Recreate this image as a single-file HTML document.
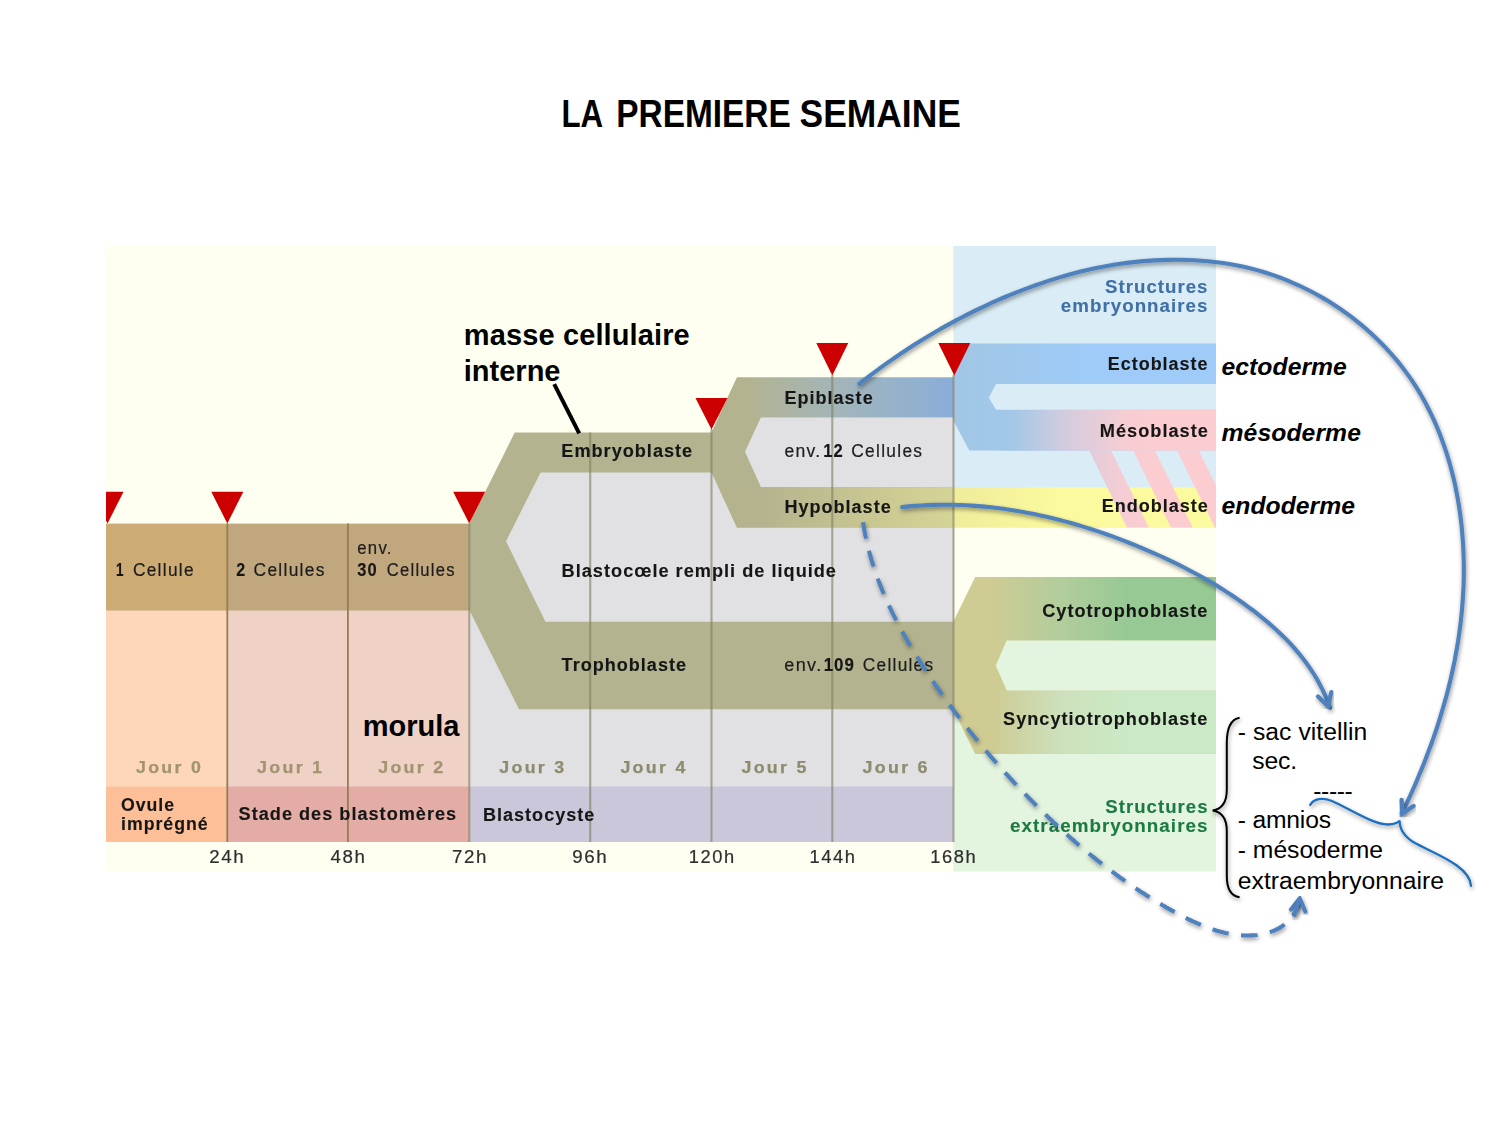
<!DOCTYPE html>
<html><head><meta charset="utf-8"><style>
html,body{margin:0;padding:0;background:#fff;width:1500px;height:1125px;overflow:hidden}
svg{display:block;font-family:"Liberation Sans",sans-serif}
</style></head><body>
<svg width="1500" height="1125" viewBox="0 0 1500 1125">
<defs>
<filter id="soft" filterUnits="userSpaceOnUse" x="90" y="230" width="1140" height="660"><feGaussianBlur stdDeviation="0.55"/></filter>
<clipPath id="clipD"><rect x="106" y="240" width="1110" height="640"/></clipPath>
<linearGradient id="gEpi" gradientUnits="userSpaceOnUse" x1="745" y1="0" x2="953" y2="0">
 <stop offset="0" stop-color="#b3b38f"/><stop offset="0.45" stop-color="#a2b5ba"/><stop offset="1" stop-color="#8aaed9"/></linearGradient>
<linearGradient id="gHyp" gradientUnits="userSpaceOnUse" x1="760" y1="0" x2="953" y2="0">
 <stop offset="0" stop-color="#b4b38e"/><stop offset="0.7" stop-color="#cdcb92"/><stop offset="1" stop-color="#d5d497"/></linearGradient>
<linearGradient id="gEcto" gradientUnits="userSpaceOnUse" x1="953" y1="0" x2="1080" y2="0">
 <stop offset="0" stop-color="#a2c6e4"/><stop offset="1" stop-color="#9ecbf7"/></linearGradient>
<linearGradient id="gMeso" gradientUnits="userSpaceOnUse" x1="990" y1="0" x2="1160" y2="0">
 <stop offset="0" stop-color="#a1c8e6" stop-opacity="0"/><stop offset="0.12" stop-color="#a1c8e6"/><stop offset="0.29" stop-color="#bccae3"/><stop offset="0.47" stop-color="#d6ccdd"/><stop offset="0.8" stop-color="#f6cdd3"/><stop offset="1" stop-color="#fccdd0"/></linearGradient>
<linearGradient id="gStripe" gradientUnits="userSpaceOnUse" x1="990" y1="0" x2="1160" y2="0">
 <stop offset="0.12" stop-color="#a1c8e6"/><stop offset="0.29" stop-color="#bccae3"/><stop offset="0.47" stop-color="#d6ccdd"/><stop offset="0.8" stop-color="#f6cdd3"/><stop offset="1" stop-color="#fccdd0"/></linearGradient>
<linearGradient id="gEndo" gradientUnits="userSpaceOnUse" x1="953" y1="0" x2="1060" y2="0">
 <stop offset="0" stop-color="#efec9b"/><stop offset="1" stop-color="#fcfa9e"/></linearGradient>
<linearGradient id="gCyto" gradientUnits="userSpaceOnUse" x1="992" y1="0" x2="1128" y2="0">
 <stop offset="0" stop-color="#cecb93"/><stop offset="0.5" stop-color="#b2cd9c"/><stop offset="1" stop-color="#97c995"/></linearGradient>
<linearGradient id="gSync" gradientUnits="userSpaceOnUse" x1="992" y1="0" x2="1128" y2="0">
 <stop offset="0" stop-color="#cecb93"/><stop offset="0.5" stop-color="#cde0bb"/><stop offset="1" stop-color="#c9eac5"/></linearGradient>
<clipPath id="clipR"><rect x="953.3" y="440" width="262.7" height="100"/></clipPath>
<filter id="sh" x="-20%" y="-20%" width="140%" height="140%"><feDropShadow dx="0.8" dy="2.2" stdDeviation="2.0" flood-color="#000" flood-opacity="0.42"/></filter>
</defs>
<text x="561.4" y="126.8" font-size="38.5" font-weight="bold" fill="#000" textLength="41.7" lengthAdjust="spacingAndGlyphs">LA</text><text x="616.2" y="126.8" font-size="38.5" font-weight="bold" fill="#000" textLength="174.6" lengthAdjust="spacingAndGlyphs">PREMIERE</text><text x="799.5" y="126.8" font-size="38.5" font-weight="bold" fill="#000" textLength="161.4" lengthAdjust="spacingAndGlyphs">SEMAINE</text>
<g filter="url(#soft)">
<rect x="106.00" y="246.00" width="1110.00" height="625.50" fill="#fefff0" />
<rect x="953.30" y="246.00" width="262.70" height="281.50" fill="#daecf5" />
<rect x="953.30" y="640.00" width="262.70" height="231.50" fill="#e3f4df" />
<rect x="106.00" y="523.60" width="121.30" height="87.20" fill="#cdab74" />
<rect x="106.00" y="610.80" width="121.30" height="175.50" fill="#fed6b9" />
<rect x="106.00" y="786.30" width="121.30" height="55.70" fill="#fcbf98" />
<rect x="227.30" y="523.60" width="242.00" height="87.20" fill="#c0a77d" />
<rect x="227.30" y="610.80" width="242.00" height="175.50" fill="#efd1c6" />
<rect x="227.30" y="786.30" width="242.00" height="55.70" fill="#e3aca5" />
<rect x="469.30" y="523.60" width="484.00" height="262.70" fill="#e1e0e3" />
<rect x="469.30" y="786.30" width="484.00" height="55.70" fill="#c9c7d9" />
<polygon points="469.2,523.9 514.7,432.5 711.5,432.5 737.0,377.6 953.3,377.6 953.3,709.2 519.0,709.2 469.2,609.7" fill="#b3b38f" />
<polygon points="761.0,417.3 953.3,417.3 953.3,487.3 761.0,487.3 745.0,451.8" fill="#e1e0e3" />
<polygon points="540.6,472.5 711.5,472.5 737.0,527.5 953.3,527.5 953.3,621.7 545.4,621.7 506.0,541.2" fill="#e1e0e3" />
<polygon points="737.0,377.6 953.3,377.6 953.3,417.3 718.5,417.3" fill="url(#gEpi)" />
<polygon points="718.5,487.3 953.3,487.3 953.3,527.5 737.0,527.5" fill="url(#gHyp)" />
<polygon points="953.3,343.4 1216.0,343.4 1216.0,450.6 969.3,450.6 953.3,420.5" fill="url(#gEcto)" />
<rect x="975.00" y="409.80" width="241.00" height="40.80" fill="url(#gMeso)" />
<polygon points="996.0,383.9 1216.0,383.9 1216.0,409.8 996.0,409.8 988.8,397.8" fill="#daecf5" />
<rect x="953.30" y="487.30" width="262.70" height="40.20" fill="url(#gEndo)" />
<g clip-path="url(#clipR)"><polygon points="1089.2,450.6 1111.0,450.6 1148.8,527.5 1127.0,527.5" fill="url(#gStripe)" /><polygon points="1133.1,450.6 1154.9,450.6 1192.7,527.5 1170.9,527.5" fill="url(#gStripe)" /><polygon points="1177.0,450.6 1198.8,450.6 1236.6,527.5 1214.8,527.5" fill="url(#gStripe)" /><polygon points="1220.9,450.6 1242.7,450.6 1280.5,527.5 1258.7,527.5" fill="url(#gStripe)" /></g>
<polygon points="953.3,621.7 975.2,577.0 1216.0,577.0 1216.0,753.9 975.2,753.9 953.3,709.2" fill="#cecb93" />
<rect x="975.20" y="577.00" width="240.80" height="63.60" fill="url(#gCyto)" />
<rect x="975.20" y="690.40" width="240.80" height="63.50" fill="url(#gSync)" />
<polygon points="1006.7,640.6 1216.0,640.6 1216.0,690.4 1006.7,690.4 995.7,665.5" fill="#e3f4df" />
<line x1="227.3" y1="523.6" x2="227.3" y2="842" stroke="#957d55" stroke-width="1.8"/>
<line x1="347.9" y1="523.6" x2="347.9" y2="842" stroke="#957d55" stroke-width="1.8"/>
<line x1="469.3" y1="523.6" x2="469.3" y2="842" stroke="#807e5f" stroke-opacity="0.62" stroke-width="2.1"/>
<line x1="590.2" y1="432.5" x2="590.2" y2="842" stroke="#807e5f" stroke-opacity="0.62" stroke-width="2.1"/>
<line x1="711.5" y1="429" x2="711.5" y2="842" stroke="#807e5f" stroke-opacity="0.62" stroke-width="2.1"/>
<line x1="832.3" y1="375" x2="832.3" y2="842" stroke="#807e5f" stroke-opacity="0.62" stroke-width="2.1"/>
<line x1="953.5" y1="375" x2="953.5" y2="842" stroke="#807e5f" stroke-opacity="0.62" stroke-width="2.1"/>
<polygon points="211.3,491.7 243.3,491.7 227.3,523.6" fill="#cc0000" />
<polygon points="453.2,491.7 485.2,491.7 469.2,523.6" fill="#cc0000" />
<polygon points="695.5,398.0 727.5,398.0 711.5,429.5" fill="#cc0000" />
<polygon points="816.3,343.0 848.3,343.0 832.3,375.5" fill="#cc0000" />
<polygon points="938.3,343.0 970.3,343.0 954.3,375.5" fill="#cc0000" />
<g clip-path="url(#clipD)"><polygon points="91.5,491.7 123.5,491.7 107.5,523.6" fill="#cc0000" /></g>
<text x="561.3" y="457.0" font-size="18" font-weight="bold" font-style="normal" fill="#151515" stroke="#151515" stroke-width="0.12" letter-spacing="1.0" textLength="131.9" lengthAdjust="spacingAndGlyphs" >Embryoblaste</text>
<text x="561.6" y="577.0" font-size="18" font-weight="bold" font-style="normal" fill="#151515" stroke="#151515" stroke-width="0.12" letter-spacing="1.0" textLength="275.4" lengthAdjust="spacingAndGlyphs" >Blastocœle rempli de liquide</text>
<text x="561.6" y="671.0" font-size="18" font-weight="bold" font-style="normal" fill="#151515" stroke="#151515" stroke-width="0.12" letter-spacing="1.0" textLength="125.4" lengthAdjust="spacingAndGlyphs" >Trophoblaste</text>
<text x="784.4" y="404.0" font-size="18" font-weight="bold" font-style="normal" fill="#151515" stroke="#151515" stroke-width="0.12" letter-spacing="1.0" textLength="89.3" lengthAdjust="spacingAndGlyphs" >Epiblaste</text>
<text x="784.4" y="512.7" font-size="18" font-weight="bold" font-style="normal" fill="#151515" stroke="#151515" stroke-width="0.12" letter-spacing="1.0" textLength="107.3" lengthAdjust="spacingAndGlyphs" >Hypoblaste</text>
<text x="1107.8" y="369.7" font-size="18" font-weight="bold" font-style="normal" fill="#151515" stroke="#151515" stroke-width="0.12" letter-spacing="1.0" textLength="100.7" lengthAdjust="spacingAndGlyphs" >Ectoblaste</text>
<text x="1099.8" y="436.7" font-size="18" font-weight="bold" font-style="normal" fill="#151515" stroke="#151515" stroke-width="0.12" letter-spacing="1.0" textLength="109.1" lengthAdjust="spacingAndGlyphs" >Mésoblaste</text>
<text x="1101.7" y="512.0" font-size="18" font-weight="bold" font-style="normal" fill="#151515" stroke="#151515" stroke-width="0.12" letter-spacing="1.0" textLength="107.2" lengthAdjust="spacingAndGlyphs" >Endoblaste</text>
<text x="1042.2" y="617.1" font-size="18" font-weight="bold" font-style="normal" fill="#151515" stroke="#151515" stroke-width="0.12" letter-spacing="1.0" textLength="166.2" lengthAdjust="spacingAndGlyphs" >Cytotrophoblaste</text>
<text x="1003.1" y="725.0" font-size="18" font-weight="bold" font-style="normal" fill="#151515" stroke="#151515" stroke-width="0.12" letter-spacing="1.0" textLength="205.3" lengthAdjust="spacingAndGlyphs" >Syncytiotrophoblaste</text>
<text x="483.0" y="820.6" font-size="18" font-weight="bold" font-style="normal" fill="#151515" stroke="#151515" stroke-width="0.12" letter-spacing="1.0" textLength="112.3" lengthAdjust="spacingAndGlyphs" >Blastocyste</text>
<text x="238.6" y="820.2" font-size="18" font-weight="bold" font-style="normal" fill="#151515" stroke="#151515" stroke-width="0.12" letter-spacing="1.0" textLength="218.6" lengthAdjust="spacingAndGlyphs" >Stade des blastomères</text>
<text x="121.0" y="811.4" font-size="18" font-weight="bold" font-style="normal" fill="#151515" stroke="#151515" stroke-width="0.12" letter-spacing="1.0" textLength="54.0" lengthAdjust="spacingAndGlyphs" >Ovule</text>
<text x="121.0" y="830.0" font-size="18" font-weight="bold" font-style="normal" fill="#151515" stroke="#151515" stroke-width="0.12" letter-spacing="1.0" textLength="87.6" lengthAdjust="spacingAndGlyphs" >imprégné</text>
<text x="1105.0" y="293.2" font-size="18" font-weight="bold" font-style="normal" fill="#3f70a6" stroke="#3f70a6" stroke-width="0.12" letter-spacing="1.0" textLength="103.5" lengthAdjust="spacingAndGlyphs" >Structures</text>
<text x="1060.8" y="311.9" font-size="18" font-weight="bold" font-style="normal" fill="#3f70a6" stroke="#3f70a6" stroke-width="0.12" letter-spacing="1.0" textLength="147.7" lengthAdjust="spacingAndGlyphs" >embryonnaires</text>
<text x="1105.3" y="812.7" font-size="18" font-weight="bold" font-style="normal" fill="#1d7a44" stroke="#1d7a44" stroke-width="0.12" letter-spacing="1.0" textLength="103.2" lengthAdjust="spacingAndGlyphs" >Structures</text>
<text x="1010.0" y="831.8" font-size="18" font-weight="bold" font-style="normal" fill="#1d7a44" stroke="#1d7a44" stroke-width="0.12" letter-spacing="1.0" textLength="198.5" lengthAdjust="spacingAndGlyphs" >extraembryonnaires</text>
<text x="116.0" y="576.1" font-size="17.5" font-weight="bold" font-style="normal" fill="#151515" stroke="#151515" stroke-width="0.12" letter-spacing="1.0" textLength="8.3" lengthAdjust="spacingAndGlyphs" >1</text>
<text x="132.9" y="576.1" font-size="17.5" font-weight="normal" font-style="normal" fill="#1e1e1e" stroke="#1e1e1e" stroke-width="0.2" letter-spacing="1.3" textLength="62.0" lengthAdjust="spacingAndGlyphs" >Cellule</text>
<text x="236.3" y="576.0" font-size="17.5" font-weight="bold" font-style="normal" fill="#151515" stroke="#151515" stroke-width="0.12" letter-spacing="1.0" textLength="9.9" lengthAdjust="spacingAndGlyphs" >2</text>
<text x="253.6" y="576.0" font-size="17.5" font-weight="normal" font-style="normal" fill="#1e1e1e" stroke="#1e1e1e" stroke-width="0.2" letter-spacing="1.3" textLength="72.1" lengthAdjust="spacingAndGlyphs" >Cellules</text>
<text x="357.3" y="554.0" font-size="17.5" font-weight="normal" font-style="normal" fill="#1e1e1e" stroke="#1e1e1e" stroke-width="0.2" letter-spacing="1.3" textLength="35.4" lengthAdjust="spacingAndGlyphs" >env.</text>
<text x="357.3" y="576.0" font-size="17.5" font-weight="bold" font-style="normal" fill="#151515" stroke="#151515" stroke-width="0.12" letter-spacing="1.0" textLength="20.2" lengthAdjust="spacingAndGlyphs" >30</text>
<text x="386.8" y="576.0" font-size="17.5" font-weight="normal" font-style="normal" fill="#1e1e1e" stroke="#1e1e1e" stroke-width="0.2" letter-spacing="1.3" textLength="69.0" lengthAdjust="spacingAndGlyphs" >Cellules</text>
<text x="784.4" y="456.7" font-size="17.5" font-weight="normal" font-style="normal" fill="#1e1e1e" stroke="#1e1e1e" stroke-width="0.2" letter-spacing="1.3" textLength="37.1" lengthAdjust="spacingAndGlyphs" >env.</text>
<text x="823.3" y="456.7" font-size="17.5" font-weight="bold" font-style="normal" fill="#151515" stroke="#151515" stroke-width="0.12" letter-spacing="1.0" textLength="20.4" lengthAdjust="spacingAndGlyphs" >12</text>
<text x="851.3" y="456.7" font-size="17.5" font-weight="normal" font-style="normal" fill="#1e1e1e" stroke="#1e1e1e" stroke-width="0.2" letter-spacing="1.3" textLength="72.0" lengthAdjust="spacingAndGlyphs" >Cellules</text>
<text x="784.3" y="671.3" font-size="17.5" font-weight="normal" font-style="normal" fill="#1e1e1e" stroke="#1e1e1e" stroke-width="0.2" letter-spacing="1.3" textLength="38.2" lengthAdjust="spacingAndGlyphs" >env.</text>
<text x="823.7" y="671.3" font-size="17.5" font-weight="bold" font-style="normal" fill="#151515" stroke="#151515" stroke-width="0.12" letter-spacing="1.0" textLength="31.1" lengthAdjust="spacingAndGlyphs" >109</text>
<text x="862.8" y="671.3" font-size="17.5" font-weight="normal" font-style="normal" fill="#1e1e1e" stroke="#1e1e1e" stroke-width="0.2" letter-spacing="1.3" textLength="71.6" lengthAdjust="spacingAndGlyphs" >Cellules</text>
<text x="136.0" y="772.8" font-size="17" font-weight="bold" font-style="normal" fill="#a29470" stroke="#a29470" stroke-width="0.25" letter-spacing="2.2" textLength="67.2" lengthAdjust="spacingAndGlyphs" >Jour 0</text>
<text x="257.1" y="772.8" font-size="17" font-weight="bold" font-style="normal" fill="#a29470" stroke="#a29470" stroke-width="0.25" letter-spacing="2.2" textLength="67.2" lengthAdjust="spacingAndGlyphs" >Jour 1</text>
<text x="378.2" y="772.8" font-size="17" font-weight="bold" font-style="normal" fill="#a29470" stroke="#a29470" stroke-width="0.25" letter-spacing="2.2" textLength="67.2" lengthAdjust="spacingAndGlyphs" >Jour 2</text>
<text x="499.3" y="772.8" font-size="17" font-weight="bold" font-style="normal" fill="#8e8b6e" stroke="#8e8b6e" stroke-width="0.25" letter-spacing="2.2" textLength="67.2" lengthAdjust="spacingAndGlyphs" >Jour 3</text>
<text x="620.4" y="772.8" font-size="17" font-weight="bold" font-style="normal" fill="#8e8b6e" stroke="#8e8b6e" stroke-width="0.25" letter-spacing="2.2" textLength="67.2" lengthAdjust="spacingAndGlyphs" >Jour 4</text>
<text x="741.5" y="772.8" font-size="17" font-weight="bold" font-style="normal" fill="#8e8b6e" stroke="#8e8b6e" stroke-width="0.25" letter-spacing="2.2" textLength="67.2" lengthAdjust="spacingAndGlyphs" >Jour 5</text>
<text x="862.6" y="772.8" font-size="17" font-weight="bold" font-style="normal" fill="#8e8b6e" stroke="#8e8b6e" stroke-width="0.25" letter-spacing="2.2" textLength="67.2" lengthAdjust="spacingAndGlyphs" >Jour 6</text>
<text x="209.2" y="863.0" font-size="17.5" font-weight="normal" font-style="normal" fill="#2e2e2e" stroke="#2e2e2e" stroke-width="0.2" letter-spacing="1.5" textLength="36.0" lengthAdjust="spacingAndGlyphs" >24h</text>
<text x="330.4" y="863.0" font-size="17.5" font-weight="normal" font-style="normal" fill="#2e2e2e" stroke="#2e2e2e" stroke-width="0.2" letter-spacing="1.5" textLength="36.0" lengthAdjust="spacingAndGlyphs" >48h</text>
<text x="451.9" y="863.0" font-size="17.5" font-weight="normal" font-style="normal" fill="#2e2e2e" stroke="#2e2e2e" stroke-width="0.2" letter-spacing="1.5" textLength="36.0" lengthAdjust="spacingAndGlyphs" >72h</text>
<text x="572.2" y="863.0" font-size="17.5" font-weight="normal" font-style="normal" fill="#2e2e2e" stroke="#2e2e2e" stroke-width="0.2" letter-spacing="1.5" textLength="36.0" lengthAdjust="spacingAndGlyphs" >96h</text>
<text x="688.8" y="863.0" font-size="17.5" font-weight="normal" font-style="normal" fill="#2e2e2e" stroke="#2e2e2e" stroke-width="0.2" letter-spacing="1.5" textLength="47.0" lengthAdjust="spacingAndGlyphs" >120h</text>
<text x="809.5" y="863.0" font-size="17.5" font-weight="normal" font-style="normal" fill="#2e2e2e" stroke="#2e2e2e" stroke-width="0.2" letter-spacing="1.5" textLength="47.0" lengthAdjust="spacingAndGlyphs" >144h</text>
<text x="930.2" y="863.0" font-size="17.5" font-weight="normal" font-style="normal" fill="#2e2e2e" stroke="#2e2e2e" stroke-width="0.2" letter-spacing="1.5" textLength="47.0" lengthAdjust="spacingAndGlyphs" >168h</text>
</g>
<text x="463.8" y="345.0" font-size="29" font-weight="bold" font-style="normal" fill="#000" textLength="225.9" lengthAdjust="spacing">masse cellulaire</text>
<text x="463.8" y="380.8" font-size="29" font-weight="bold" font-style="normal" fill="#000" textLength="96.7" lengthAdjust="spacing">interne</text>
<text x="362.8" y="736.0" font-size="29" font-weight="bold" font-style="normal" fill="#000" textLength="96.6" lengthAdjust="spacing">morula</text>
<text x="1221.5" y="375.0" font-size="24.7" font-weight="bold" font-style="italic" fill="#000" textLength="125.3" lengthAdjust="spacing">ectoderme</text>
<text x="1221.5" y="441.0" font-size="24.7" font-weight="bold" font-style="italic" fill="#000" textLength="139.4" lengthAdjust="spacing">mésoderme</text>
<text x="1221.5" y="514.0" font-size="24.7" font-weight="bold" font-style="italic" fill="#000" textLength="133.5" lengthAdjust="spacing">endoderme</text>
<text x="1237.8" y="739.7" font-size="24.7" font-weight="normal" font-style="normal" fill="#000" textLength="129.5" lengthAdjust="spacing">- sac vitellin</text>
<text x="1252.3" y="769.1" font-size="24.7" font-weight="normal" font-style="normal" fill="#000" textLength="44.7" lengthAdjust="spacing">sec.</text>
<text x="1313.2" y="798.6" font-size="24.7" font-weight="normal" font-style="normal" fill="#000" textLength="39.6" lengthAdjust="spacing">-----</text>
<text x="1237.8" y="828.1" font-size="24.7" font-weight="normal" font-style="normal" fill="#000" textLength="93.2" lengthAdjust="spacing">- amnios</text>
<text x="1237.8" y="858.0" font-size="24.7" font-weight="normal" font-style="normal" fill="#000" textLength="145.2" lengthAdjust="spacing">- mésoderme</text>
<text x="1237.8" y="888.6" font-size="24.7" font-weight="normal" font-style="normal" fill="#000" textLength="206.2" lengthAdjust="spacing">extraembryonnaire</text>
<path d="M859.3,383.8 L864.6,379.7 L869.9,375.6 L875.3,371.6 L880.7,367.6 L886.2,363.7 L891.7,359.8 L897.3,356.0 L902.9,352.2 L908.5,348.5 L914.2,344.8 L919.9,341.2 L925.7,337.7 L931.5,334.2 L937.4,330.8 L943.2,327.4 L949.2,324.1 L955.1,320.9 L961.1,317.7 L967.1,314.6 L973.2,311.6 L979.3,308.7 L985.4,305.8 L991.5,302.9 L997.7,300.2 L1003.9,297.5 L1010.2,294.9 L1016.5,292.4 L1022.8,289.9 L1029.1,287.6 L1035.4,285.3 L1041.8,283.1 L1048.2,280.9 L1054.7,278.9 L1061.1,276.9 L1067.6,275.0 L1074.1,273.3 L1080.6,271.6 L1087.2,270.0 L1093.7,268.5 L1100.3,267.2 L1107.0,265.9 L1113.6,264.8 L1120.3,263.8 L1127.0,262.9 L1133.7,262.1 L1140.4,261.4 L1147.1,260.9 L1153.9,260.4 L1160.7,260.1 L1167.4,259.9 L1174.2,259.8 L1181.0,259.8 L1187.7,260.0 L1194.5,260.3 L1201.3,260.7 L1208.0,261.3 L1214.7,262.0 L1221.4,262.8 L1228.1,263.8 L1234.8,265.0 L1241.4,266.3 L1248.0,267.8 L1254.5,269.4 L1261.1,271.3 L1267.5,273.2 L1274.0,275.4 L1280.3,277.7 L1286.6,280.2 L1292.9,282.8 L1299.1,285.5 L1305.2,288.5 L1311.3,291.5 L1317.3,294.7 L1323.2,298.1 L1329.0,301.6 L1334.7,305.2 L1340.4,309.0 L1345.9,312.9 L1351.4,316.9 L1356.7,321.1 L1362.0,325.4 L1367.1,329.8 L1372.1,334.3 L1377.0,338.9 L1381.8,343.7 L1386.5,348.6 L1391.0,353.6 L1395.4,358.7 L1399.7,363.9 L1403.8,369.2 L1407.8,374.6 L1411.7,380.1 L1415.3,385.7 L1418.9,391.4 L1422.3,397.2 L1425.5,403.1 L1428.6,409.0 L1431.6,415.1 L1434.4,421.2 L1437.1,427.4 L1439.6,433.6 L1442.0,439.9 L1444.3,446.3 L1446.4,452.7 L1448.4,459.2 L1450.3,465.7 L1452.0,472.3 L1453.7,478.9 L1455.2,485.5 L1456.5,492.2 L1457.8,498.9 L1458.9,505.6 L1459.9,512.3 L1460.8,519.1 L1461.6,525.9 L1462.2,532.7 L1462.7,539.4 L1463.2,546.2 L1463.5,553.0 L1463.7,559.8 L1463.8,566.6 L1463.8,573.4 L1463.7,580.1 L1463.5,586.9 L1463.1,593.6 L1462.7,600.3 L1462.2,607.1 L1461.6,613.8 L1460.9,620.5 L1460.1,627.1 L1459.2,633.8 L1458.2,640.5 L1457.1,647.1 L1455.9,653.7 L1454.7,660.4 L1453.3,667.0 L1451.9,673.5 L1450.4,680.1 L1448.8,686.7 L1447.1,693.2 L1445.4,699.7 L1443.5,706.2 L1441.6,712.7 L1439.6,719.2 L1437.6,725.6 L1435.5,732.0 L1433.3,738.4 L1431.0,744.8 L1428.6,751.1 L1426.2,757.5 L1423.8,763.8 L1421.2,770.1 L1418.6,776.3 L1416.0,782.6 L1413.3,788.8 L1410.5,795.0 L1407.7,801.1 L1404.8,807.3 L1401.8,813.4" fill="none" stroke="#4f81bd" stroke-width="4.1" stroke-linecap="round" filter="url(#sh)"/>
<path d="M1401.6,800 L1402.3,813.5 L1413.6,806" fill="none" stroke="#4f81bd" stroke-width="4.3" stroke-linecap="round" stroke-linejoin="miter" stroke-miterlimit="10" filter="url(#sh)"/>
<polygon points="1402.3,813.5 1402.0,807.4 1407.4,810.1" fill="#4f81bd"/>
<path d="M902.2,507.1 L908.6,506.4 L915.0,505.9 L921.4,505.5 L927.8,505.1 L934.1,504.9 L940.5,504.8 L946.8,504.8 L953.2,504.8 L959.5,505.0 L965.8,505.3 L972.1,505.6 L978.4,506.1 L984.7,506.6 L990.9,507.3 L997.2,508.0 L1003.4,508.8 L1009.6,509.7 L1015.8,510.7 L1022.0,511.7 L1028.2,512.9 L1034.3,514.1 L1040.5,515.4 L1046.6,516.8 L1052.7,518.2 L1058.8,519.7 L1064.9,521.4 L1071.0,523.0 L1077.0,524.8 L1083.1,526.6 L1089.1,528.5 L1095.1,530.4 L1101.1,532.4 L1107.1,534.5 L1113.1,536.7 L1119.0,538.9 L1124.9,541.1 L1130.9,543.5 L1136.8,545.9 L1142.6,548.3 L1148.5,550.8 L1154.4,553.3 L1160.2,556.0 L1166.0,558.6 L1171.7,561.4 L1177.5,564.2 L1183.2,567.0 L1188.8,570.0 L1194.5,573.0 L1200.1,576.0 L1205.6,579.1 L1211.1,582.3 L1216.6,585.6 L1222.0,588.9 L1227.3,592.4 L1232.6,595.8 L1237.8,599.4 L1243.0,603.0 L1248.1,606.8 L1253.2,610.5 L1258.1,614.4 L1263.0,618.4 L1267.9,622.4 L1272.6,626.5 L1277.3,630.7 L1281.8,635.0 L1286.3,639.4 L1290.6,643.9 L1294.8,648.6 L1298.8,653.3 L1302.7,658.2 L1306.5,663.2 L1310.1,668.3 L1313.5,673.5 L1316.8,678.9 L1319.8,684.4 L1322.7,690.1 L1325.4,695.9 L1327.8,701.9 L1330.0,708.0" fill="none" stroke="#4f81bd" stroke-width="4.1" stroke-linecap="round" filter="url(#sh)"/>
<path d="M1318,696.5 L1328.1,706.2 L1331.3,692.2" fill="none" stroke="#4f81bd" stroke-width="4.3" stroke-linecap="round" stroke-linejoin="miter" stroke-miterlimit="10" filter="url(#sh)"/>
<polygon points="1328.1,706.2 1323.6,701.8 1329.5,699.9" fill="#4f81bd"/>
<path d="M862.9,521.3 L863.4,524.3 L863.9,527.4 L864.4,530.4 L865.0,533.4 L865.6,536.4 L866.2,539.4 L866.9,542.4 L867.6,545.3 L868.3,548.3 L869.1,551.2 L869.9,554.2 L870.7,557.1 L871.5,560.0 L872.4,562.9 L873.3,565.7 L874.2,568.6 L875.2,571.4 L876.2,574.3 L877.2,577.1 L878.2,579.9 L879.3,582.7 L880.4,585.5 L881.5,588.3 L882.6,591.1 L883.8,593.8 L885.0,596.6 L886.2,599.3 L887.4,602.1 L888.6,604.8 L889.9,607.5 L891.2,610.2 L892.5,612.9 L893.8,615.6 L895.2,618.3 L896.6,620.9 L897.9,623.6 L899.4,626.2 L900.8,628.9 L902.2,631.5 L903.7,634.2 L905.1,636.8 L906.6,639.4 L908.1,642.0 L909.7,644.6 L911.2,647.2 L912.7,649.8 L914.3,652.3 L915.9,654.9 L917.5,657.5 L919.1,660.0 L920.7,662.6 L922.3,665.1 L923.9,667.7 L925.6,670.2 L927.2,672.7 L928.9,675.2 L930.6,677.8 L932.3,680.3 L934.0,682.8 L935.7,685.3 L937.4,687.8 L939.1,690.2 L940.9,692.7 L942.6,695.2 L944.4,697.7 L946.2,700.1 L947.9,702.6 L949.7,705.0 L951.5,707.5 L953.3,709.9 L955.1,712.3 L957.0,714.7 L958.8,717.1 L960.6,719.6 L962.5,722.0 L964.4,724.3 L966.2,726.7 L968.1,729.1 L970.0,731.5 L971.9,733.8 L973.8,736.2 L975.7,738.6 L977.6,740.9 L979.6,743.2 L981.5,745.6 L983.4,747.9 L985.4,750.2 L987.4,752.5 L989.3,754.8 L991.3,757.1 L993.3,759.4 L995.3,761.7 L997.3,764.0 L999.3,766.2 L1001.3,768.5 L1003.3,770.7 L1005.3,773.0 L1007.4,775.2 L1009.4,777.4 L1011.5,779.7 L1013.5,781.9 L1015.6,784.1 L1017.6,786.3 L1019.7,788.5 L1021.8,790.6 L1023.9,792.8 L1026.0,795.0 L1028.1,797.1 L1030.2,799.3 L1032.3,801.4 L1034.4,803.5 L1036.5,805.7 L1038.6,807.8 L1040.8,809.9 L1042.9,812.0 L1045.0,814.1 L1047.2,816.2 L1049.3,818.2 L1051.5,820.3 L1053.7,822.4 L1055.9,824.4 L1058.0,826.4 L1060.2,828.5 L1062.4,830.5 L1064.6,832.5 L1066.9,834.5 L1069.1,836.5 L1071.3,838.5 L1073.6,840.4 L1075.8,842.4 L1078.1,844.4 L1080.4,846.3 L1082.6,848.2 L1084.9,850.2 L1087.2,852.1 L1089.5,854.0 L1091.8,855.9 L1094.2,857.7 L1096.5,859.6 L1098.8,861.5 L1101.2,863.3 L1103.6,865.2 L1105.9,867.0 L1108.3,868.8 L1110.7,870.6 L1113.1,872.4 L1115.6,874.2 L1118.0,876.0 L1120.4,877.8 L1122.9,879.5 L1125.4,881.3 L1127.9,883.0 L1130.3,884.7 L1132.9,886.4 L1135.4,888.1 L1137.9,889.8 L1140.4,891.5 L1143.0,893.1 L1145.6,894.8 L1148.2,896.4 L1150.8,898.1 L1153.4,899.7 L1156.0,901.3 L1158.6,902.9 L1161.3,904.4 L1163.9,906.0 L1166.6,907.6 L1169.3,909.1 L1172.0,910.6 L1174.8,912.1 L1177.5,913.6 L1180.2,915.1 L1183.0,916.5 L1185.8,917.9 L1188.6,919.3 L1191.4,920.7 L1194.2,922.0 L1197.0,923.2 L1199.8,924.4 L1202.6,925.6 L1205.5,926.7 L1208.3,927.8 L1211.2,928.8 L1214.0,929.8 L1216.9,930.7 L1219.8,931.5 L1222.7,932.2 L1225.5,932.9 L1228.4,933.5 L1231.3,934.1 L1234.2,934.5 L1237.1,934.9 L1240.0,935.2 L1242.9,935.4 L1245.8,935.5 L1248.7,935.5 L1251.6,935.4 L1254.5,935.3 L1257.4,935.0 L1260.3,934.6 L1263.1,934.0 L1265.9,933.4 L1268.7,932.6 L1271.4,931.7 L1274.1,930.6 L1276.6,929.4 L1279.2,928.1 L1281.6,926.6 L1283.9,924.9 L1286.2,923.1 L1288.3,921.1 L1290.3,919.0 L1292.2,916.6 L1294.0,914.1 L1295.6,911.3 L1297.1,908.4 L1298.5,905.3 L1299.7,901.9 L1300.7,898.4" fill="none" stroke="#4f81bd" stroke-width="4.1" stroke-dasharray="16.6 12.56" stroke-dashoffset="-0.96" filter="url(#sh)"/>
<path d="M1291,909.5 L1299.7,898.7 L1305.3,911.5" fill="none" stroke="#4f81bd" stroke-width="4.3" stroke-linecap="round" stroke-linejoin="miter" stroke-miterlimit="10" filter="url(#sh)"/>
<polygon points="1299.7,898.7 1295.8,903.6 1302.2,904.5" fill="#4f81bd"/>
<line x1="1293.6" y1="916.5" x2="1299.7" y2="899" stroke="#4f81bd" stroke-width="4.1" filter="url(#sh)"/>
<path d="M1310.2,804.8 C1314,799 1322,797 1332,801 C1350,809 1372,824 1388,824.5 C1395,824.5 1399,822 1399.6,820.4 C1399.6,828 1403,836 1415,843 C1435,854 1470,866 1471,885.8" fill="none" stroke="#1f6fc0" stroke-width="2.3" stroke-linecap="round" filter="url(#sh)"/>
<path d="M1239.6,717.8 C1230.5,719.5 1226.8,730 1226.8,743 L1226.8,789.7 C1226.8,802 1221.5,809 1212.7,810.5 C1221.5,812 1226.8,819 1226.8,831 L1226.8,876 C1226.8,889 1230.5,896 1239.6,897.2" fill="none" stroke="#000" stroke-width="2" filter="url(#sh)"/>
<line x1="554.2" y1="384.2" x2="579.2" y2="433.3" stroke="#000" stroke-width="4"/>
</svg>
</body></html>
